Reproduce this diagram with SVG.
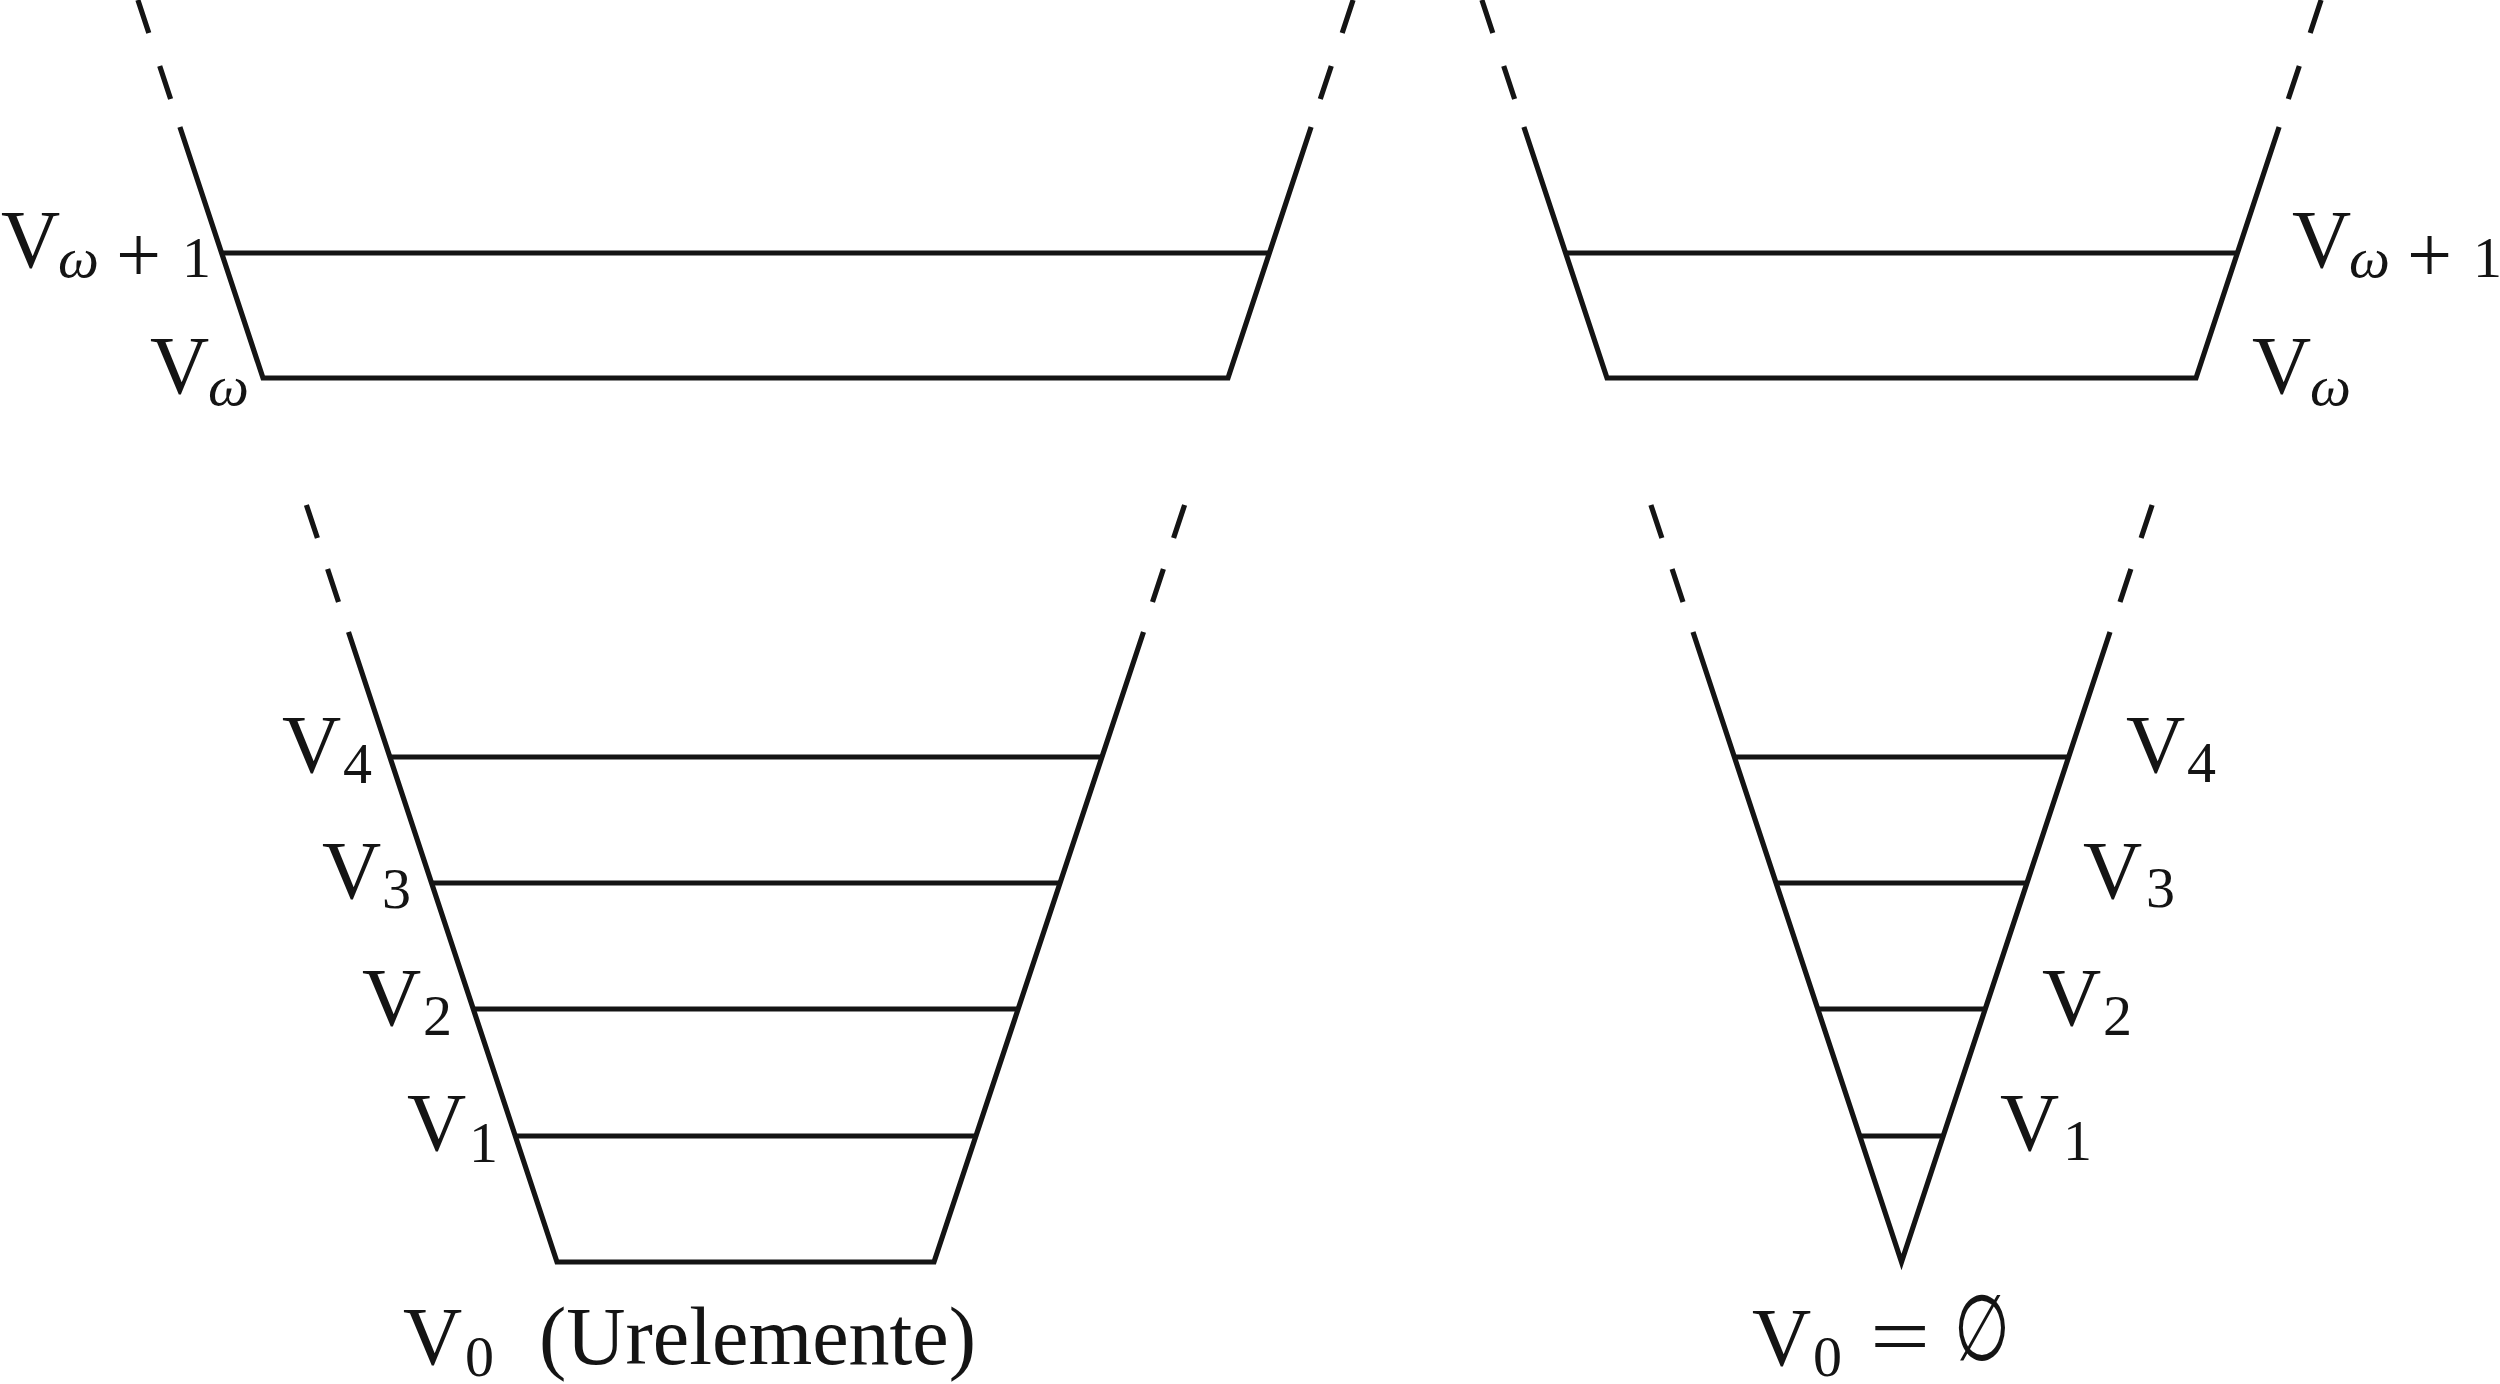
<svg xmlns="http://www.w3.org/2000/svg" width="2500" height="1384" viewBox="0 0 2500 1384">
<style>
.ln{fill:none;stroke:#141414;stroke-width:5.2;stroke-linecap:butt;stroke-linejoin:miter;stroke-miterlimit:6}
.t{font-family:"Liberation Serif","DejaVu Serif",serif;font-size:82px;fill:#141414}
.s{font-size:58px}
.p{font-size:80px}
.w{font-style:italic}
</style>
<rect width="2500" height="1384" fill="#ffffff"/>
<g id="connectors"></g>

<g id="top-left">
<path class="ln" d="M137.9,0 L148.8,33 M159.7,66 L170.6,99 M1353.1,0 L1342.2,33 M1331.3,66 L1320.3,99"/>
<path class="ln" d="M179.9,127 L263,378 L1228,378 L1311.1,127"/>
<path class="ln" d="M221.6,253 H1269.4"/>
<text class="t" x="1" y="267">V<tspan class="s w" x="58" y="277">ω</tspan><tspan class="p" x="116" y="282">+</tspan><tspan class="s" x="182" y="277">1</tspan></text>
<text class="t" x="150" y="393">V<tspan class="s w" x="208" y="405">ω</tspan></text>
</g>

<g id="top-right">
<path class="ln" d="M1481.9,0 L1492.8,33 M1503.7,66 L1514.6,99 M2321.1,0 L2310.2,33 M2299.3,66 L2288.3,99"/>
<path class="ln" d="M1523.9,127 L1607,378 L2196,378 L2279.1,127"/>
<path class="ln" d="M1565.6,253 H2237.4"/>
<text class="t" x="2292" y="267">V<tspan class="s w" x="2349" y="277">ω</tspan><tspan class="p" x="2407" y="282">+</tspan><tspan class="s" x="2473" y="277">1</tspan></text>
<text class="t" x="2252" y="393">V<tspan class="s w" x="2310" y="405">ω</tspan></text>
</g>

<g id="bottom-left">
<path class="ln" d="M306.4,505 L317.4,538 M327.6,569 L338.5,602 M1184.6,505 L1173.6,538 M1163.4,569 L1152.5,602"/>
<path class="ln" d="M348.5,632 L557,1262 L934,1262 L1143.5,632"/>
<path class="ln" d="M389.9,757 H1101.1 M431.5,883 H1059.5 M473.3,1009 H1017.7 M515.3,1136 H975.7"/>
<text class="t" x="282" y="772">V<tspan class="s" x="343" y="783">4</tspan></text>
<text class="t" x="322" y="898">V<tspan class="s" x="382" y="908">3</tspan></text>
<text class="t" x="362" y="1025">V<tspan class="s" x="423" y="1035">2</tspan></text>
<text class="t" x="407" y="1150">V<tspan class="s" x="469" y="1162">1</tspan></text>
<text class="t" x="403" y="1364">V<tspan class="s" x="465" y="1376">0</tspan><tspan x="539" y="1364">(Urelemente)</tspan></text>
</g>

<g id="bottom-right">
<path class="ln" d="M1650.9,505 L1661.9,538 M1672.1,569 L1683,602 M2152.1,505 L2141.1,538 M2130.9,569 L2120,602"/>
<path class="ln" d="M1693,632 L1901.5,1262 L2110,632"/>
<path class="ln" d="M1734.3,757 H2068.7 M1776.1,883 H2026.9 M1817.8,1009 H1985.2 M1859.8,1136 H1943.2"/>
<text class="t" x="1752" y="1365">V<tspan class="s" x="1813" y="1376">0</tspan></text>
<text class="t" transform="translate(1870,1364) scale(1.3,1)">=</text>
<text class="t" transform="translate(1982,1360) scale(0.78,1.12)" text-anchor="middle">∅</text>
<text class="t" x="2126" y="772">V<tspan class="s" x="2187" y="782">4</tspan></text>
<text class="t" x="2083" y="898">V<tspan class="s" x="2146" y="907">3</tspan></text>
<text class="t" x="2042" y="1025">V<tspan class="s" x="2103" y="1035">2</tspan></text>
<text class="t" x="2000" y="1150">V<tspan class="s" x="2063" y="1160">1</tspan></text>
</g>
</svg>
